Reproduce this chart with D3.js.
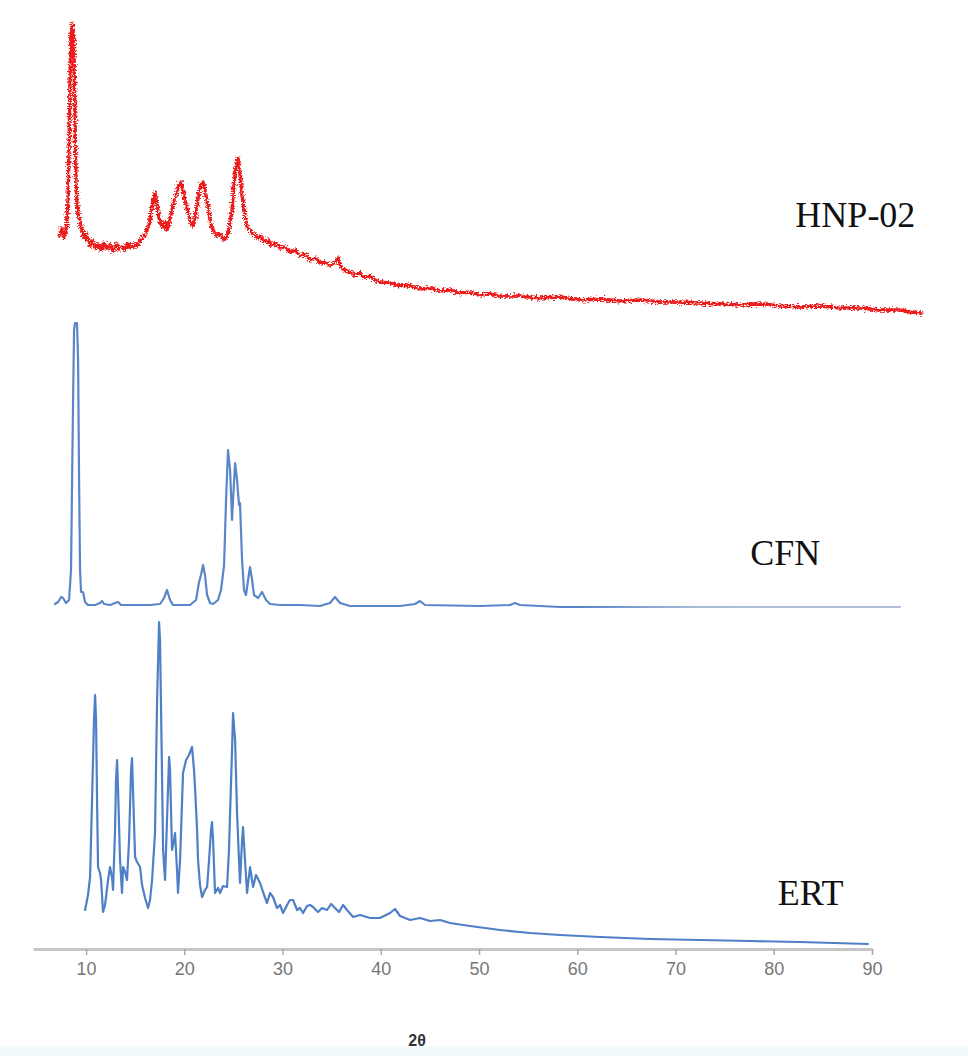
<!DOCTYPE html>
<html>
<head>
<meta charset="utf-8">
<script src="https://cdn.jsdelivr.net/npm/d3@7"></script>
<style>
  html, body { margin: 0; padding: 0; background: #ffffff; }
  svg { display: block; }
</style>
</head>
<body>
<svg id="chart" width="968" height="1056"></svg>
<script>
// XRD patterns (2θ in degrees, intensity in arbitrary units), stacked with vertical offsets.

// HNP-02
const hnpTheta = [7.35,7.56,7.76,7.96,8.17,8.27,8.37,8.47,8.58,8.68,8.78,8.88,8.98,9.08,9.19,9.39,9.59,9.80,10.00,10.20,
  10.41,10.61,10.92,11.22,11.53,11.83,12.14,12.44,12.75,13.05,13.36,13.66,13.97,14.27,14.58,14.89,15.19,15.50,15.80,16.11,
  16.41,16.72,17.02,17.23,17.43,17.63,17.84,18.04,18.24,18.55,18.85,19.16,19.47,19.67,19.87,20.18,20.48,20.69,20.89,21.09,
  21.30,21.50,21.70,21.91,22.11,22.32,22.52,22.72,23.03,23.33,23.64,23.94,24.25,24.45,24.66,24.86,25.06,25.27,25.47,25.67,
  25.88,26.08,26.28,26.49,26.79,27.10,27.40,27.71,28.12,28.52,28.93,29.34,29.75,30.25,30.76,31.27,31.78,32.29,32.80,33.31,
  33.82,34.33,34.83,35.34,35.65,35.95,36.36,36.87,37.38,37.89,38.40,38.91,39.41,39.92,40.94,41.96,42.98,43.99,45.01,46.03,
  47.05,48.07,49.08,50.10,51.12,52.14,54.17,56.21,58.24,60.28,62.32,64.35,66.39,68.42,70.46,72.49,74.53,76.56,78.60,80.64,
  82.67,84.71,86.74,88.78,90.81,92.85,93.87,95.09];
const hnpCounts = [83,91,81,87,119,169,239,289,295,293,259,199,139,114,105,97,89,81,85,77,
  73,79,71,75,69,76,70,74,68,75,70,73,69,76,71,75,73,79,81,87,
  94,114,126,114,101,94,91,97,89,99,114,124,135,137,129,114,104,95,93,101,
  114,127,135,137,129,117,105,94,87,83,86,79,81,87,97,109,134,154,161,147,
  124,109,97,91,87,85,81,83,77,79,73,76,71,72,67,69,63,65,59,61,
  56,57,53,57,61,51,49,47,44,46,41,43,39,37,36,33,34,30,31,28,
  29,26,27,24,25,23,23,21,22,19,20,18,19,17,17,16,15,14,15,13,
  12,13,11,11,9,9,7,6];

// CFN
const cfnTheta = [6.84,7.15,7.46,7.66,7.96,8.27,8.47,8.58,8.68,8.78,8.88,9.08,9.19,9.29,9.39,9.49,9.69,9.90,10.20,10.92,
  11.42,11.63,11.83,12.44,12.95,13.26,13.56,14.48,16.51,17.53,17.94,18.24,18.55,18.85,20.58,21.20,21.50,21.70,21.91,22.11,
  22.32,22.62,22.93,23.43,23.74,24.05,24.25,24.45,24.66,24.86,24.96,25.17,25.37,25.57,25.67,25.88,26.08,26.28,26.49,26.69,
  26.90,27.10,27.51,27.91,28.32,28.73,29.75,31.78,33.82,34.83,35.34,35.85,36.87,41.96,43.49,43.99,44.50,50.10,53.15,53.66,
  54.17,58.24,72.49,92.85];
const cfnCounts = [5,7,12,11,6,9,39,129,209,279,286,286,249,129,39,17,17,7,4,4,
  6,8,5,4,6,7,4,4,4,5,11,19,9,4,4,9,27,34,44,34,
  14,6,5,9,19,44,109,159,139,89,109,146,129,104,106,49,19,14,29,42,
  29,14,11,17,9,5,4,4,3,6,12,6,3,3,5,8,4,3,4,6,
  4,2,2,2];

// ERT
const ertTheta = [9.90,10.20,10.41,10.61,10.81,10.92,11.02,11.12,11.22,11.42,11.53,11.73,11.93,12.24,12.44,12.65,12.75,12.95,13.05,13.16,
  13.26,13.46,13.66,13.77,13.97,14.17,14.38,14.58,14.68,14.78,14.99,15.19,15.50,15.70,16.01,16.31,16.51,16.72,17.02,17.23,
  17.43,17.53,17.74,17.84,18.04,18.24,18.45,18.55,18.75,18.96,19.06,19.26,19.36,19.57,19.87,20.18,20.48,20.79,20.99,21.09,
  21.30,21.40,21.60,21.81,22.11,22.32,22.52,22.72,22.82,22.93,23.13,23.43,23.64,23.94,24.35,24.55,24.66,24.86,24.96,25.17,
  25.37,25.57,25.67,25.88,25.98,26.18,26.39,26.69,27.00,27.30,27.71,28.12,28.42,28.73,29.03,29.44,29.75,30.05,30.46,30.76,
  31.07,31.48,31.78,32.09,32.49,32.80,33.10,33.61,34.02,34.53,34.94,35.34,35.75,36.16,36.56,37.18,37.89,38.91,39.92,40.94,
  41.45,41.96,42.98,43.99,45.01,46.03,47.05,49.08,52.14,55.19,58.24,62.32,67.41,72.49,77.58,82.67,89.59];
const ertCounts = [39,54,72,149,229,254,229,149,82,76,69,37,44,69,82,71,59,119,169,189,
  159,89,56,82,77,69,109,179,191,159,92,87,82,64,51,41,49,69,116,249,
  327,309,169,99,69,129,192,179,99,109,116,79,56,89,176,189,194,202,179,162,
  119,89,64,52,59,62,89,119,127,109,56,61,56,63,62,99,136,199,236,209,
  136,89,66,109,122,89,56,82,62,74,66,54,46,56,52,41,44,36,44,49,
  49,39,41,36,43,44,42,37,41,39,45,41,37,44,39,32,34,31,31,36,
  40,33,29,31,28,29,26,23,19,16,14,12,10,9,8,7,5];

const seriesNames = ["HNP-02", "CFN", "ERT"];
const seriesOffsets = [630, 340, 0];
const seriesColors = ["#ec1c1c", "#5a86c9", "#4f7fc6"];
const xTicks = [10, 20, 30, 40, 50, 60, 70, 80, 90];
const xTitle = "2θ";

const svg = d3.select("#chart");
const W = 968, H = 1056;
const defs = svg.append("defs");

// rough, grainy texture for the noisy HNP-02 scan
const rough = defs.append("filter").attr("id", "rough")
  .attr("x", "-5%").attr("y", "-10%").attr("width", "110%").attr("height", "120%");
rough.append("feTurbulence").attr("type", "fractalNoise")
  .attr("baseFrequency", "0.45 0.9").attr("numOctaves", 2).attr("seed", 3).attr("result", "n");
rough.append("feDisplacementMap").attr("in", "SourceGraphic").attr("in2", "n")
  .attr("scale", 7).attr("xChannelSelector", "R").attr("yChannelSelector", "G");

// CFN trace fades toward high angles
const fade = defs.append("linearGradient").attr("id", "cfnFade")
  .attr("gradientUnits", "userSpaceOnUse").attr("x1", 0).attr("x2", W).attr("y1", 0).attr("y2", 0);
fade.append("stop").attr("offset", "0.6").attr("stop-color", "#5a86c9");
fade.append("stop").attr("offset", "0.72").attr("stop-color", "#a9bcd8");
fade.append("stop").attr("offset", "1").attr("stop-color", "#b3c1d8");

// faint tinted strip along the bottom edge
svg.append("rect").attr("x", 0).attr("y", 1046).attr("width", W).attr("height", 10).attr("fill", "#f3fafc");

const x = d3.scaleLinear().domain([4.6, 90]).range([33, 872]);
const y = d3.scaleLinear().domain([0, 930]).range([949, 19]);

const series = [
  { theta: hnpTheta, counts: hnpCounts },
  { theta: cfnTheta, counts: cfnCounts },
  { theta: ertTheta, counts: ertCounts }
];

const line = d3.line()
  .x(d => x(d[0]))
  .y(d => y(d[1]));

series.forEach((s, i) => {
  const pts = s.theta.map((t, j) => [t, s.counts[j] + seriesOffsets[i]]);
  const p = svg.append("path")
    .datum(pts)
    .attr("fill", "none")
    .attr("stroke", i === 1 ? "url(#cfnFade)" : seriesColors[i])
    .attr("stroke-width", i === 0 ? 3.4 : 2.2)
    .attr("stroke-linejoin", "round")
    .attr("stroke-linecap", "round")
    .attr("d", line);
  if (i === 0) p.attr("filter", "url(#rough)");
});

// series labels
const labelPos = [
  { t: 82.2, v: 722 },
  { t: 77.6, v: 384 },
  { t: 80.4, v: 44 }
];
seriesNames.forEach((name, i) => {
  svg.append("text")
    .attr("x", x(labelPos[i].t))
    .attr("y", y(labelPos[i].v))
    .attr("font-family", "'Liberation Serif', 'Times New Roman', serif")
    .attr("font-size", 36)
    .attr("fill", "#111")
    .text(name);
});

// x axis
const axis = svg.append("g")
  .attr("transform", `translate(0,${y(0)})`)
  .call(d3.axisBottom(x).tickValues(xTicks).tickSize(6).tickSizeOuter(0).tickPadding(7));
axis.select(".domain").attr("stroke", "#c6c6c6").attr("stroke-width", 3);
axis.selectAll(".tick line").attr("stroke", "#a8a8a8").attr("stroke-width", 1.5);
axis.selectAll(".tick text")
  .attr("font-family", "'Liberation Sans', Arial, sans-serif")
  .attr("font-size", 18)
  .attr("fill", "#777");

svg.append("text")
  .attr("x", x(43.7))
  .attr("y", 1046)
  .attr("text-anchor", "middle")
  .attr("font-family", "'Liberation Sans', Arial, sans-serif")
  .attr("font-weight", "bold")
  .attr("font-size", 16)
  .attr("fill", "#333")
  .text(xTitle);
</script>
</body>
</html>
